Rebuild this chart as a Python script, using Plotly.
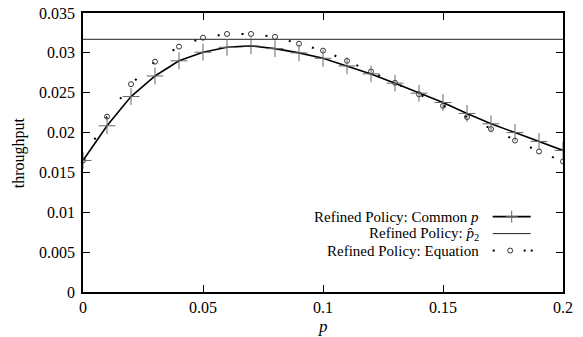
import plotly.graph_objects as go

# ---- data ----
p_vals = [0.00, 0.01, 0.02, 0.03, 0.04, 0.05, 0.06, 0.07, 0.08, 0.09, 0.10,
          0.11, 0.12, 0.13, 0.14, 0.15, 0.16, 0.17, 0.18, 0.19, 0.20]
common_p = [0.01650, 0.02085, 0.02452, 0.02710, 0.02900, 0.03008, 0.03070, 0.03087,
            0.03053, 0.03000, 0.02932, 0.02836, 0.02736, 0.02620, 0.02494, 0.02377,
            0.02240, 0.02110, 0.02000, 0.01889, 0.01776]
equation = [0.01650, 0.02200, 0.02607, 0.02890, 0.03078, 0.03190, 0.03237, 0.03237,
            0.03200, 0.03115, 0.03028, 0.02900, 0.02765, 0.02625, 0.02480, 0.02335,
            0.02194, 0.02044, 0.01900, 0.01763, 0.01638]
p_hat2 = 0.0317
x_ticks = [0, 0.05, 0.1, 0.15, 0.2]
x_ticklabels = ["0", "0.05", "0.1", "0.15", "0.2"]
y_ticks = [0, 0.005, 0.01, 0.015, 0.02, 0.025, 0.03, 0.035]
y_ticklabels = ["0", "0.005", "0.01", "0.015", "0.02", "0.025", "0.03", "0.035"]
x_title = "<i>p</i>"
y_title = "throughput"
legend_labels = ["Refined Policy: Common <i>p</i>",
                 "Refined Policy: <i>p\u0302</i><sub>2</sub>",
                 "Refined Policy: Equation"]

FONT = "Liberation Serif, Times New Roman, serif"

fig = go.Figure()

# p-hat_2 horizontal line
fig.add_trace(go.Scatter(
    x=[p_vals[0], p_vals[-1]], y=[p_hat2, p_hat2], mode="lines",
    line=dict(color="#222222", width=1), showlegend=False, hoverinfo="skip"))

# Equation: sparse dotted line + open circles
fig.add_trace(go.Scatter(
    x=p_vals, y=equation, mode="lines+markers",
    line=dict(color="black", width=2, dash="2px,22px"),
    marker=dict(symbol="circle-open", size=5, color="#333333", line=dict(width=1)),
    showlegend=False))

# Common p: solid line + plus markers
fig.add_trace(go.Scatter(
    x=p_vals, y=common_p, mode="lines",
    line=dict(color="black", width=1.6), showlegend=False))
fig.add_trace(go.Scatter(
    x=p_vals, y=common_p, mode="markers",
    marker=dict(symbol="cross-thin", size=12, color="#666666",
                line=dict(width=1, color="#666666")),
    showlegend=False))

# ---- pixel helpers for paper coordinates ----
plot_top, plot_bottom, plot_left, plot_w = 13, 292.5, 83.3, 480
def py(ypx):
    return (plot_bottom - ypx) / (plot_bottom - plot_top)
def px(xpx):
    return (xpx - plot_left) / plot_w

# axis titles
fig.add_annotation(x=0.5, y=py(327), xref="paper", yref="paper", text=x_title,
                   showarrow=False, xanchor="center", yanchor="middle",
                   font=dict(family=FONT, size=17, color="black"))
fig.add_annotation(x=px(19), y=0.5, xref="paper", yref="paper", text=y_title,
                   textangle=-90, showarrow=False, xanchor="center", yanchor="middle",
                   font=dict(family=FONT, size=16, color="black"))

# ---- custom legend (text left, sample right) ----
rows = [217, 234, 251]
text_right = px(480)
s0, s1 = px(493), px(531)
smid = (s0 + s1) / 2
for lab, r in zip(legend_labels, rows):
    fig.add_annotation(x=text_right, y=py(r), xref="paper", yref="paper",
                       text=lab, showarrow=False, xanchor="right", yanchor="middle",
                       borderpad=0,
                       font=dict(family=FONT, size=15, color="black"))
shapes = []
# row 1 line + plus
shapes.append(dict(type="line", xref="paper", yref="paper", x0=s0, x1=s1,
                   y0=py(rows[0]), y1=py(rows[0]), line=dict(color="black", width=1.6)))
shapes.append(dict(type="line", xref="paper", yref="paper", x0=smid, x1=smid,
                   y0=py(rows[0] - 6), y1=py(rows[0] + 6), line=dict(color="#666666", width=1)))
shapes.append(dict(type="line", xref="paper", yref="paper", x0=px(506), x1=px(518),
                   y0=py(rows[0]), y1=py(rows[0]), line=dict(color="#666666", width=1)))
# row 2 line
shapes.append(dict(type="line", xref="paper", yref="paper", x0=s0, x1=s1,
                   y0=py(rows[1]), y1=py(rows[1]), line=dict(color="#222222", width=1)))
# row 3 dots + circle
for dx in [494, 525, 532]:
    shapes.append(dict(type="rect", xref="paper", yref="paper", x0=px(dx - 1), x1=px(dx + 1),
                       y0=py(rows[2] + 1), y1=py(rows[2] - 1),
                       fillcolor="black", line=dict(width=0)))
shapes.append(dict(type="circle", xref="paper", yref="paper", x0=px(508), x1=px(513),
                   y0=py(rows[2] + 2.5), y1=py(rows[2] - 2.5),
                   line=dict(color="#333333", width=1)))
fig.update_layout(shapes=shapes)

axis_common = dict(showgrid=False, zeroline=False, showline=True, linecolor="black",
                   linewidth=1.5, mirror="allticks", ticks="inside", ticklen=7,
                   tickcolor="black", tickwidth=1.2, automargin=False,
                   tickfont=dict(family=FONT, size=16, color="black"))
fig.update_xaxes(range=[0, 0.2], tickvals=x_ticks, ticktext=x_ticklabels, **axis_common)
fig.update_yaxes(range=[0, 0.035], tickvals=y_ticks, ticktext=y_ticklabels,
                 ticklabelstandoff=3, **axis_common)

fig.update_layout(width=583, height=337, margin=dict(l=83, r=20, t=13, b=45),
                  plot_bgcolor="white", paper_bgcolor="white", showlegend=False,
                  font=dict(family=FONT))

fig.write_html("out.html")
